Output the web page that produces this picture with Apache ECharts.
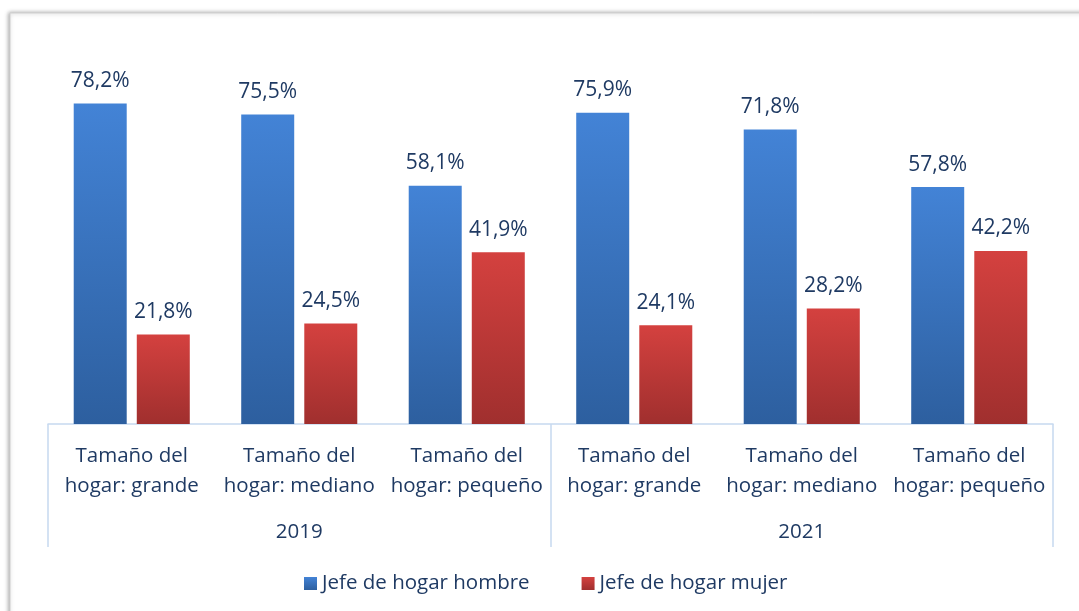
<!DOCTYPE html>
<html>
<head>
<meta charset="utf-8">
<script src="https://cdn.jsdelivr.net/npm/echarts@6/dist/echarts.min.js"></script>
<style>
html,body{margin:0;padding:0;background:#fff;}
#chart{width:1079px;height:611px;}
</style>
</head>
<body>
<div id="chart"></div>
<script>
// datos
var categorias = ['Tamaño del\nhogar: grande','Tamaño del\nhogar: mediano','Tamaño del\nhogar: pequeño',
                  'Tamaño del\nhogar: grande','Tamaño del\nhogar: mediano','Tamaño del\nhogar: pequeño'];
var anios = ['2019','2021'];
var hombre = [78.2, 75.5, 58.1, 75.9, 71.8, 57.8];
var mujer = [21.8, 24.5, 41.9, 24.1, 28.2, 42.2];

var fuente = 'Open Sans';
var colorTexto = '#1f3a63';

var myChart = echarts.init(document.getElementById('chart'));

function fmt(p){
    return p.value.toFixed(1).replace('.', ',') + '%';
}

var option = {
    animation:false,
    backgroundColor:'#fff',
    color:['#3b74c0','#c03a39'],
    graphic:[
        {//marco con sombra
            type:'rect',
            z:-10,
            shape:{x:10,y:13,width:1100,height:700},
            style:{fill:'#fff',stroke:'#d0d0d0',lineWidth:1,
                   shadowBlur:4,shadowColor:'rgba(0,0,0,0.35)',shadowOffsetX:-1,shadowOffsetY:0}
        }
    ],
    legend:{
        bottom:12,
        left:299,
        itemWidth:13,
        itemHeight:13,
        itemGap:52,
        itemTextGap:4,
        icon:'rect',
        textStyle:{fontFamily:fuente,fontSize:20.5,color:colorTexto},
        data:['Jefe de hogar hombre','Jefe de hogar mujer']
    },
    grid:{left:48,right:26,top:14,bottom:187},
    xAxis:[
        {
            type:'category',
            data:categorias,
            axisLine:{show:true,lineStyle:{color:'#c6d9f0',width:1.5}},
            axisTick:{show:false},
            axisLabel:{margin:17,fontFamily:fuente,fontSize:20.5,color:colorTexto,lineHeight:30,interval:0}
        },
        {
            type:'category',
            position:'bottom',
            data:anios,
            axisLine:{show:false},
            axisTick:{show:true,length:123,lineStyle:{color:'#c6d9f0',width:1.5}},
            axisLabel:{margin:98,fontFamily:fuente,fontSize:20.5,color:colorTexto}
        }
    ],
    yAxis:{
        type:'value',
        min:0,
        max:100,
        show:false
    },
    series:[
        {
            name:'Jefe de hogar hombre',
            type:'bar',
            barWidth:53,
            barGap:'19%',
            data:hombre,
            itemStyle:{
                color:new echarts.graphic.LinearGradient(0,0,0,1,[
                    {offset:0,color:'#4383d6'},{offset:1,color:'#2d5f9f'}
                ])
            },
            label:{show:true,position:'top',distance:12,formatter:fmt,
                   fontFamily:fuente,fontSize:21,color:colorTexto}
        },
        {
            name:'Jefe de hogar mujer',
            type:'bar',
            barWidth:53,
            data:mujer,
            itemStyle:{
                color:new echarts.graphic.LinearGradient(0,0,0,1,[
                    {offset:0,color:'#d4413f'},{offset:1,color:'#a02f2e'}
                ])
            },
            label:{show:true,position:'top',distance:12,formatter:fmt,
                   fontFamily:fuente,fontSize:21,color:colorTexto}
        }
    ]
};
myChart.setOption(option);
</script>
</body>
</html>
